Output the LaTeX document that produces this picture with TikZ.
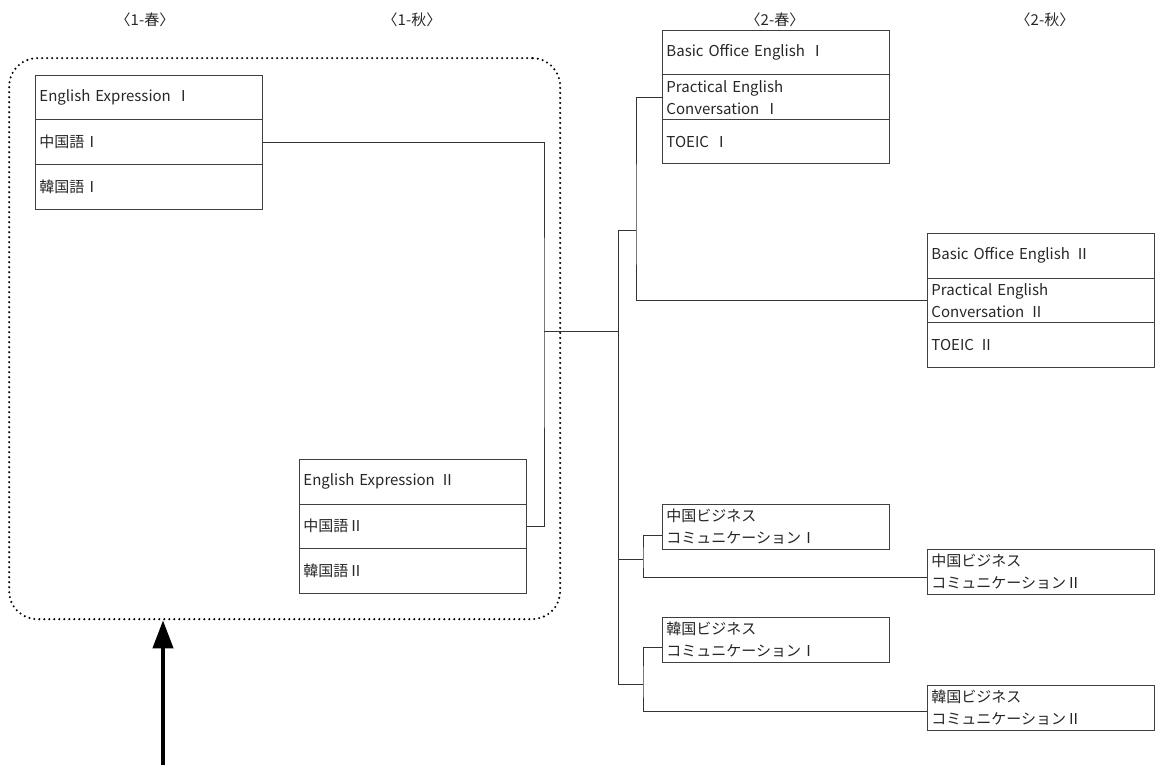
\documentclass[tikz,border=0pt]{standalone}
\usepackage{fontspec}
\setmainfont{Noto Sans CJK JP}
\usetikzlibrary{arrows.meta,calc}
\begin{document}
\begin{tikzpicture}[x=1pt,y=-1pt,
  cell/.style={draw=black!75, line width=0.9pt, rectangle, minimum width=227pt, minimum height=44.5pt,
    text width=219pt, inner xsep=4pt, inner ysep=0pt, align=left, anchor=north west,
    font=\fontsize{15}{22}\selectfont, text=black!85},
  hdr/.style={font=\fontsize{15}{18}\selectfont, text=black!85},
  link/.style={draw=black!80, line width=0.9pt},
  dots/.style={line width=2.3pt, dash pattern=on 0pt off 5pt, line cap=round},
]
\useasboundingbox (0,0) rectangle (1157,765);

% headers
\node[hdr] (h1) at (145,20) {〈1-春〉};
\node[hdr] (h2) at (412,20) {〈1-秋〉};
\node[hdr] (h3) at (775,20) {〈2-春〉};
\node[hdr] (h4) at (1045,20) {〈2-秋〉};

% dotted group
\node[draw, dots, rounded corners=28pt, minimum width=551pt, minimum height=561pt,
      anchor=north west, inner sep=0pt] (grp) at (8,57) {};

% year 1 spring
\node[cell] (A1) at (35,75) {English Expression Ⅰ};
\node[cell] (A2) at (35,119.5) {中国語Ⅰ};
\node[cell] (A3) at (35,164) {韓国語Ⅰ};

% year 1 autumn
\node[cell] (B1) at (299,459) {English Expression Ⅱ};
\node[cell] (B2) at (299,503.5) {中国語Ⅱ};
\node[cell] (B3) at (299,548) {韓国語Ⅱ};

% year 2 spring
\node[cell] (C1) at (662,30) {Basic Office English Ⅰ};
\node[cell] (C2) at (662,74.5) {Practical English\\Conversation Ⅰ};
\node[cell] (C3) at (662,119) {TOEIC Ⅰ};

% year 2 autumn
\node[cell] (D1) at (927,233) {Basic Office English Ⅱ};
\node[cell] (D2) at (927,277.5) {Practical English\\Conversation Ⅱ};
\node[cell] (D3) at (927,322) {TOEIC Ⅱ};

% business communication
\node[cell] (E) at (662,504) {中国ビジネス\\コミュニケーションⅠ};
\node[cell] (F) at (927,549) {中国ビジネス\\コミュニケーションⅡ};
\node[cell] (G) at (662,617) {韓国ビジネス\\コミュニケーションⅠ};
\node[cell] (H) at (927,685) {韓国ビジネス\\コミュニケーションⅡ};

% connector coordinates
\coordinate (j1) at (544,331);
\coordinate (tj) at (618,331);
\coordinate (t1) at (618,230);
\coordinate (t2) at (618,559);
\coordinate (t3) at (618,684);
\coordinate (b1) at (636,230);
\coordinate (b2) at (643,559);
\coordinate (b3) at (643,684);

\draw[link] (A2.east) -| (j1) |- (B2.east);
\draw[link] (j1) -- (tj);
\draw[link] (t1) -- (t3);
\draw[link] (t1) -- (b1);
\draw[link] (C2.west) -| (b1) |- (D2.west);
\draw[link] (t2) -- (b2);
\draw[link] ([yshift=-9pt]E.west) -| (b2) |- ([yshift=-6pt]F.west);
\draw[link] (t3) -- (b3);
\draw[link] ([yshift=-8pt]G.west) -| (b3) |- ([yshift=-4pt]H.west);

% bold arrow
\coordinate (foot) at (163,765);
\draw[line width=4pt, -{Triangle[width=20pt,length=28pt]}] (foot) -- (foot |- grp.south);
\end{tikzpicture}
\end{document}
